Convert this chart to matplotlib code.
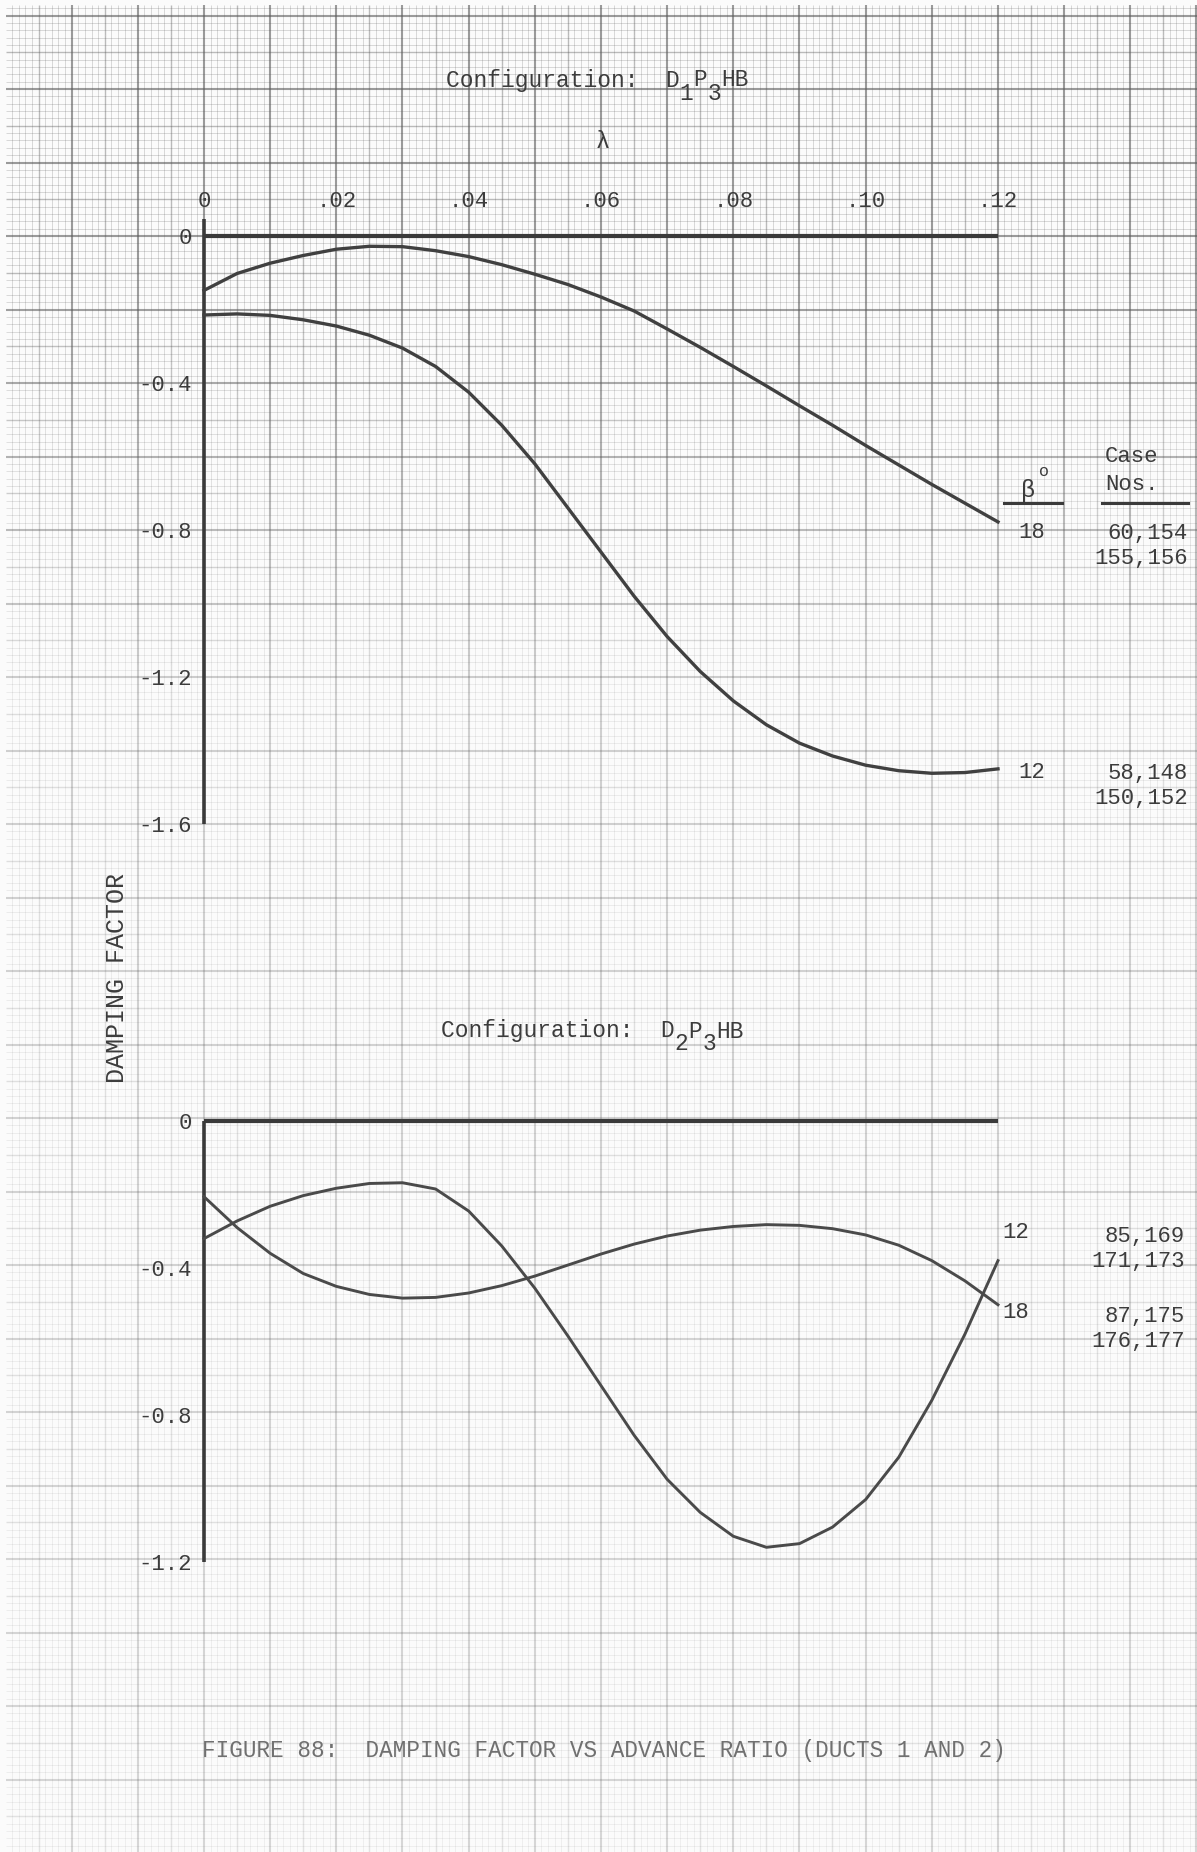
import numpy as np
import matplotlib
matplotlib.use("Agg")
import matplotlib.pyplot as plt
from matplotlib.collections import LineCollection

# ---------------- data ----------------
lam = [0, 0.005, 0.01, 0.015, 0.02, 0.025, 0.03, 0.035, 0.04, 0.045, 0.05, 0.055,
       0.06, 0.065, 0.07, 0.075, 0.08, 0.085, 0.09, 0.095, 0.10, 0.105, 0.11, 0.115, 0.12]

# Configuration D1P3HB
top_b18 = [-0.148, -0.102, -0.074, -0.053, -0.036, -0.028, -0.029, -0.040, -0.056, -0.078,
           -0.104, -0.132, -0.166, -0.204, -0.253, -0.303, -0.355, -0.408, -0.462, -0.515,
           -0.570, -0.623, -0.676, -0.727, -0.778]
top_b12 = [-0.215, -0.212, -0.216, -0.228, -0.245, -0.270, -0.305, -0.355, -0.425, -0.515,
           -0.620, -0.740, -0.860, -0.980, -1.090, -1.185, -1.265, -1.330, -1.380, -1.415,
           -1.440, -1.455, -1.462, -1.460, -1.450]

# Configuration D2P3HB
bot_b18 = [-0.206, -0.290, -0.360, -0.415, -0.450, -0.472, -0.482, -0.480, -0.468, -0.448,
           -0.422, -0.392, -0.362, -0.335, -0.313, -0.297, -0.287, -0.282, -0.284, -0.293,
           -0.310, -0.338, -0.380, -0.435, -0.500]
bot_b12 = [-0.320, -0.272, -0.232, -0.203, -0.183, -0.170, -0.168, -0.185, -0.245, -0.340,
           -0.455, -0.585, -0.720, -0.855, -0.975, -1.065, -1.130, -1.160, -1.150, -1.105,
           -1.030, -0.915, -0.760, -0.580, -0.380]

x_ticks = [0, 0.02, 0.04, 0.06, 0.08, 0.10, 0.12]
x_tick_labels = ["0", ".02", ".04", ".06", ".08", ".10", ".12"]
y_ticks_top = [0, -0.4, -0.8, -1.2, -1.6]
y_labels_top = ["0", "-0.4", "-0.8", "-1.2", "-1.6"]
y_ticks_bot = [0, -0.4, -0.8, -1.2]
y_labels_bot = ["0", "-0.4", "-0.8", "-1.2"]

top_betas = ["18", "12"]
top_cases = ["60,154\n155,156", "58,148\n150,152"]
bot_betas = ["12", "18"]
bot_cases = ["85,169\n171,173", "87,175\n176,177"]

# ---------------- style ----------------
W, H = 1197, 1852
MONO = ["Liberation Mono", "DejaVu Sans Mono"]
TXT = "#3c3c3c"
plt.rcParams["font.family"] = MONO

fig = plt.figure(figsize=(W / 100, H / 100), dpi=100)
fig.patch.set_facecolor("#fbfbfb")

# background graph paper (pixel coordinates)
bg = fig.add_axes([0, 0, 1, 1])
bg.set_xlim(0, W)
bg.set_ylim(H, 0)
bg.axis("off")

X0, Y0 = 204.0, 236.0          # anchor of the grid (origin of the top chart)
dx, dy = 6.615, 7.35           # fine grid spacing


def dark(y):
    return np.interp(y, [0, 260, 700, 1850], [1.0, 1.0, 0.45, 0.38])


gx0, gy0, gx1, gy1 = 6, 5, W, H
band = 30
ybands = np.arange(gy0, gy1, band)
vsegs = {0: [], 1: [], 2: []}
vcols = {0: [], 1: [], 2: []}
k0 = int(np.floor((gx0 - X0) / dx))
k1 = int(np.ceil((gx1 - X0) / dx))
for k in range(k0, k1 + 1):
    x = X0 + k * dx
    if x < gx0 or x > gx1:
        continue
    lvl = 2 if k % 10 == 0 else (1 if k % 5 == 0 else 0)
    for yb in ybands:
        ye = min(yb + band, gy1)
        vsegs[lvl].append([(x, yb), (x, ye)])
        vcols[lvl].append(dark(yb + band / 2))

hsegs = {0: [], 1: [], 2: []}
hcols = {0: [], 1: [], 2: []}
j0 = int(np.floor((gy0 - Y0) / dy))
j1 = int(np.ceil((gy1 - Y0) / dy))
for j in range(j0, j1 + 1):
    y = Y0 + j * dy
    if y < gy0 or y > gy1:
        continue
    lvl = 2 if j % 10 == 0 else (1 if j % 5 == 0 else 0)
    hsegs[lvl].append([(gx0, y), (gx1, y)])
    hcols[lvl].append(dark(y))

base_alpha = {0: 0.22, 1: 0.40, 2: 0.60}
lws = {0: 0.7, 1: 1.0, 2: 1.5}
for lvl in (0, 1, 2):
    for segs, cols in ((vsegs[lvl], vcols[lvl]), (hsegs[lvl], hcols[lvl])):
        rgba = [(0.35, 0.35, 0.35, base_alpha[lvl] * c) for c in cols]
        bg.add_collection(LineCollection(segs, colors=rgba, linewidths=lws[lvl]))


def px_axes(x0, x1, y0, y1):
    return fig.add_axes([x0 / W, 1 - y1 / H, (x1 - x0) / W, (y1 - y0) / H])


AX_X0, AX_X1 = 204, 998


def style_axes(ax, ylo, yticks, ylabels, top_labels):
    ax.set_facecolor("none")
    ax.set_xlim(0, 0.12)
    ax.set_ylim(ylo, 0)
    for s in ax.spines.values():
        s.set_visible(False)
    ax.set_yticks(yticks)
    ax.set_yticklabels(ylabels)
    ax.tick_params(axis="y", length=0, pad=9, labelsize=16, labelcolor=TXT)
    if top_labels:
        ax.xaxis.set_ticks_position("top")
        ax.set_xticks(x_ticks)
        ax.set_xticklabels(x_tick_labels)
        ax.tick_params(axis="x", length=0, pad=17, labelsize=16, labelcolor=TXT)
    else:
        ax.set_xticks([])
    # axis lines (zero line and vertical axis)
    ax.plot([0, 0.12], [0, 0], color="#3a3a3a", lw=3, clip_on=False, solid_capstyle="butt")
    ax.plot([0, 0], [ylo, 0.045 if top_labels else 0], color="#3a3a3a", lw=2.6,
            clip_on=False, solid_capstyle="butt")


ax1 = px_axes(AX_X0, AX_X1, 236, 824)
style_axes(ax1, -1.6, y_ticks_top, y_labels_top, True)
ax1.plot(lam, top_b18, color="#404040", lw=2.4, clip_on=False, solid_joinstyle="round")
ax1.plot(lam, top_b12, color="#404040", lw=2.4, clip_on=False, solid_joinstyle="round")

ax2 = px_axes(AX_X0, AX_X1, 1121, 1562)
style_axes(ax2, -1.2, y_ticks_bot, y_labels_bot, False)
ax2.plot(lam, bot_b18, color="#4a4a4a", lw=2.1, clip_on=False, solid_joinstyle="round")
ax2.plot(lam, bot_b12, color="#4a4a4a", lw=2.1, clip_on=False, solid_joinstyle="round")


# ---------------- text ----------------
def ftext(x, y, s, **kw):
    kw.setdefault("color", TXT)
    kw.setdefault("fontsize", 16)
    kw.setdefault("family", MONO)
    return fig.text(x / W, 1 - y / H, s, **kw)


CW = 0.6 * 16.5 * 100 / 72   # monospace character advance in pixels


def config_title(xl, y, d, p):
    # pieces laid out on a monospace character grid; subscripts lowered
    pieces = [("Configuration:  D", 0, 0), (d, 17, 13), ("P", 18, 0), (p, 19, 13), ("HB", 20, 0)]
    for s, col, dy_ in pieces:
        ftext(xl + col * CW, y + dy_, s, ha="left", va="center", fontsize=16.5)


config_title(446, 80, "1", "3")
config_title(441, 1031, "2", "3")
ftext(603, 142, "λ", ha="center", va="center", fontsize=17)

ftext(117, 978, "DAMPING FACTOR", rotation=90, ha="center", va="center", fontsize=18)

# legend block, top chart
ftext(1028, 490, "β", ha="center", va="center", fontsize=17)
ftext(1044, 472, "o", ha="center", va="center", fontsize=12)
ftext(1105, 457, "Case", ha="left", va="center", fontsize=16)
ftext(1105, 484, "Nos.", ha="left", va="center", fontsize=16)
bg.plot([1004, 1062], [503, 503], color="#3a3a3a", lw=2.2)
bg.plot([1102, 1188], [503, 503], color="#3a3a3a", lw=2.2)

for b, c, yy in zip(top_betas, top_cases, [532, 772]):
    ftext(1032, yy, b, ha="center", va="center")
    ftext(1188, yy + 14, c, ha="right", va="center", linespacing=1.25)

for b, c, yy in zip(bot_betas, bot_cases, [1233, 1313]):
    ftext(1016, yy, b, ha="center", va="center")
    ftext(1185, yy + 16, c, ha="right", va="center", linespacing=1.3)

ftext(604, 1751, "FIGURE 88:  DAMPING FACTOR VS ADVANCE RATIO (DUCTS 1 AND 2)",
      ha="center", va="center", fontsize=16.3, color="#707070")

fig.savefig("out.png", dpi=100, facecolor=fig.get_facecolor())
